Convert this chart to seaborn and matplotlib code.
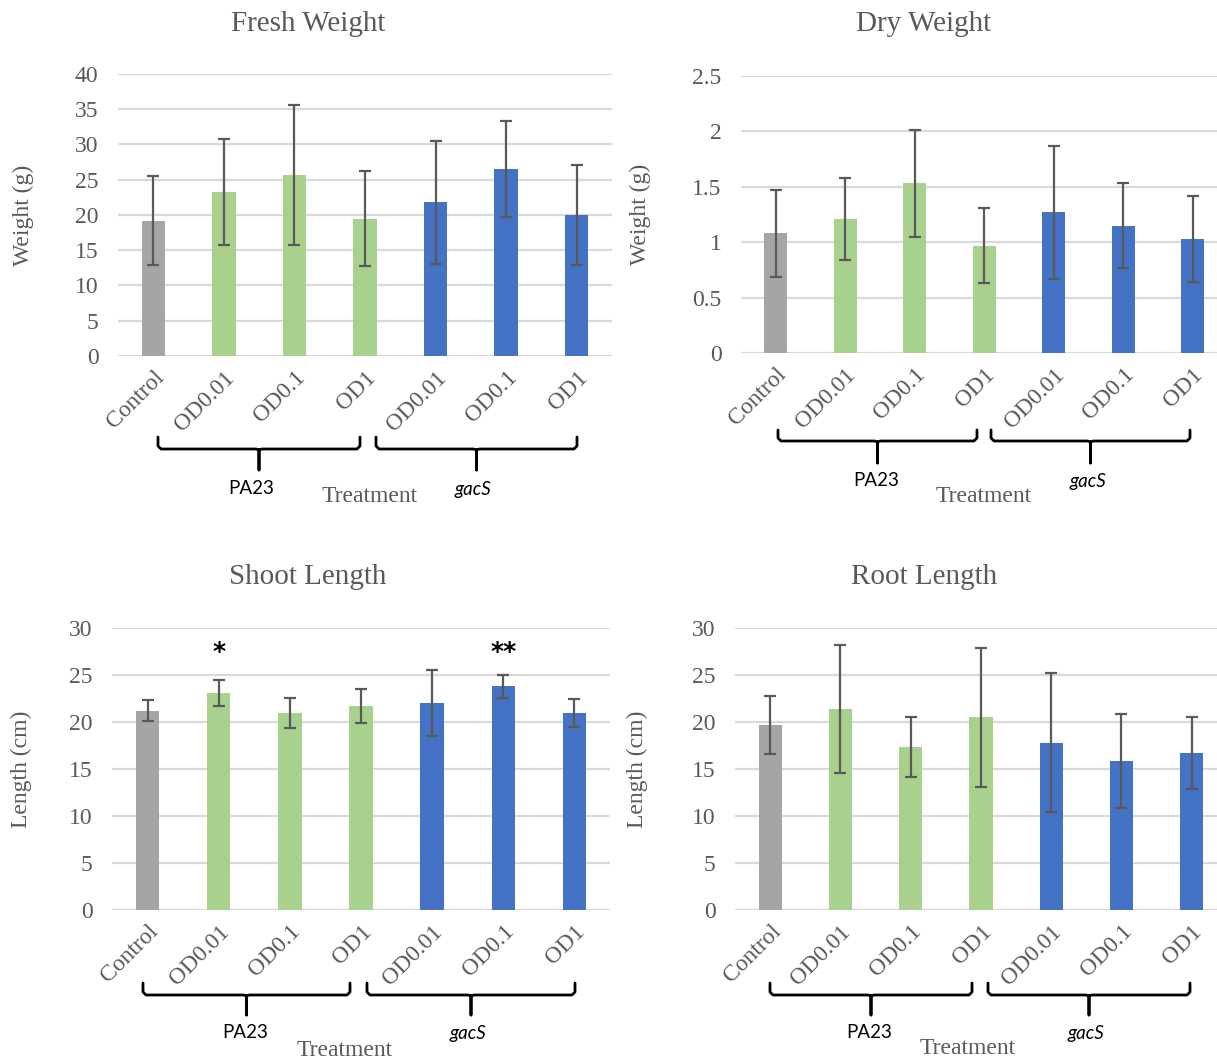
import matplotlib
matplotlib.use("Agg")
import matplotlib.pyplot as plt
import seaborn as sns
import pandas as pd
from matplotlib.lines import Line2D

sns.set_theme(style="white")
plt.rcParams['font.family'] = ['Liberation Serif', 'DejaVu Serif']
plt.rcParams['font.serif'] = ['Liberation Serif', 'DejaVu Serif']

# ---------------- data ----------------
cond_ids = ["Control", "PA23_OD0.01", "PA23_OD0.1", "PA23_OD1",
            "gacS_OD0.01", "gacS_OD0.1", "gacS_OD1"]
tick_labels = ["Control", "OD0.01", "OD0.1", "OD1", "OD0.01", "OD0.1", "OD1"]
groups = ["Control", "PA23", "PA23", "PA23", "gacS", "gacS", "gacS"]

fresh_mean = [19.2, 23.3, 25.7, 19.5, 21.8, 26.5, 20.0]
fresh_err = [6.3, 7.5, 9.9, 6.7, 8.7, 6.8, 7.1]

dry_mean = [1.08, 1.21, 1.53, 0.97, 1.27, 1.15, 1.03]
dry_err = [0.39, 0.37, 0.48, 0.34, 0.60, 0.38, 0.39]

shoot_mean = [21.2, 23.1, 21.0, 21.7, 22.0, 23.8, 21.0]
shoot_err = [1.1, 1.4, 1.6, 1.8, 3.5, 1.2, 1.5]
shoot_sig = ["", "*", "", "", "", "**", ""]
sig_y = 27.4

root_mean = [19.7, 21.4, 17.3, 20.5, 17.8, 15.8, 16.7]
root_err = [3.1, 6.8, 3.2, 7.4, 7.4, 5.0, 3.8]

palette = {"Control": "#A5A5A5", "PA23": "#A9D18E", "gacS": "#4472C4"}

W, H = 1217, 1062
fig = plt.figure(figsize=(W / 100, H / 100), dpi=100)

GRAY = "#595959"
GRID = "#D9D9D9"
SERIF = ['Liberation Serif', 'DejaVu Serif']


def px_rect(left, right, top, bottom):
    return [left / W, 1 - bottom / H, (right - left) / W, (bottom - top) / H]


def fx(x):
    return x / W


def fy(y):
    return 1 - y / H


def panel(rect_px, xmax, means, errs, ymax, ystep, ylabel, ylabel_x, title,
          title_xy, sig=None):
    left, right, top, bottom = rect_px
    ax = fig.add_axes(px_rect(left, right, top, bottom))
    df = pd.DataFrame({"cond": cond_ids, "value": means, "group": groups})
    sns.barplot(data=df, x="cond", y="value", hue="group", order=cond_ids,
                palette=palette, width=0.33, dodge=False, errorbar=None,
                saturation=1, legend=False, ax=ax, linewidth=0, zorder=3)
    ax.errorbar(range(len(means)), means, yerr=errs, fmt="none",
                ecolor=GRAY, elinewidth=1.6, capsize=4.5, capthick=1.6,
                zorder=4)
    ax.set_xlim(-0.5, xmax)
    ax.set_ylim(0, ymax)
    ticks = [i * ystep for i in range(int(round(ymax / ystep)) + 1)]
    ax.set_yticks(ticks)
    ax.set_yticklabels(["%g" % t for t in ticks], fontfamily=SERIF)
    ax.yaxis.grid(True, color=GRID, linewidth=1.6, zorder=0)
    ax.set_axisbelow(True)
    for s in ax.spines.values():
        s.set_visible(False)
    ax.tick_params(axis="both", length=0, labelsize=17, colors=GRAY)
    ax.tick_params(axis="y", pad=14)
    ax.tick_params(axis="x", pad=8)
    ax.set_xticks(range(len(tick_labels)))
    ax.set_xticklabels(tick_labels, rotation=45, ha="right",
                       rotation_mode="anchor", fontfamily=SERIF)
    ax.set_xlabel("")
    ax.set_ylabel(ylabel, fontsize=17, color=GRAY, fontfamily=SERIF)
    ax.yaxis.set_label_coords((ylabel_x - left) / (right - left), 0.5)
    fig.text(fx(title_xy[0]), fy(title_xy[1]), title, fontsize=21,
             color=GRAY, ha="center", va="center", fontfamily=SERIF)
    if sig:
        for i, s in enumerate(sig):
            if s:
                ax.text(i, sig_y, s, ha="center", va="center", fontsize=18,
                        fontweight="bold", color="black", family="DejaVu Sans")
    return ax


def brace(x0, x1, ytop, yline, ystem):
    xm = (x0 + x1) / 2
    r = 3
    xs = [x0, x0, x0 + r, xm - r, xm, xm, xm, xm + r, x1 - r, x1, x1]
    ys = [ytop, yline - r, yline, yline, yline + r * 0.3, ystem, yline + r * 0.3,
          yline, yline, yline - r, ytop]
    fig.add_artist(Line2D([fx(v) for v in xs], [fy(v) for v in ys],
                          color="black", linewidth=2.0,
                          solid_joinstyle="round", solid_capstyle="round"))


def group_labels(pa_xy, gac_xy, tr_xy):
    fig.text(fx(pa_xy[0]), fy(pa_xy[1]), "PA23", fontsize=13.5,
             family="Lato", color="black", ha="center", va="center")
    fig.text(fx(gac_xy[0]), fy(gac_xy[1]), "gacS", fontsize=13.5,
             family="Lato", style="italic", color="black", ha="center",
             va="center")
    fig.text(fx(tr_xy[0]), fy(tr_xy[1]), "Treatment", fontsize=17,
             color=GRAY, ha="center", va="center", fontfamily=SERIF)


# Fresh weight
panel((118, 612, 74, 356), 6.5, fresh_mean, fresh_err, 40, 5,
      "Weight (g)", 34, "Fresh Weight", (308, 24))
brace(158, 360, 437, 449, 470)
brace(376, 577, 437, 449, 470)
group_labels((251, 489), (473, 489), (370, 497))

# Dry weight
panel((741, 1217, 76, 353), 6.35, dry_mean, dry_err, 2.5, 0.5,
      "Weight (g)", 651, "Dry Weight", (924, 24))
brace(778, 977, 430, 441, 463)
brace(991, 1190, 430, 441, 463)
group_labels((876, 481), (1088, 481), (984, 497))

# Shoot length
panel((112, 610, 628, 910), 6.5, shoot_mean, shoot_err, 30, 5,
      "Length (cm)", 32, "Shoot Length", (308, 577), sig=shoot_sig)
brace(143, 350, 983, 995, 1015)
brace(367, 575, 983, 995, 1015)
group_labels((245, 1033), (468, 1033), (345, 1050))

# Root length
panel((735, 1217, 628, 910), 6.36, root_mean, root_err, 30, 5,
      "Length (cm)", 648, "Root Length", (924, 577))
brace(770, 972, 983, 995, 1015)
brace(988, 1190, 983, 995, 1015)
group_labels((869, 1033), (1086, 1033), (968, 1048))

fig.savefig("out.png", dpi=100)
